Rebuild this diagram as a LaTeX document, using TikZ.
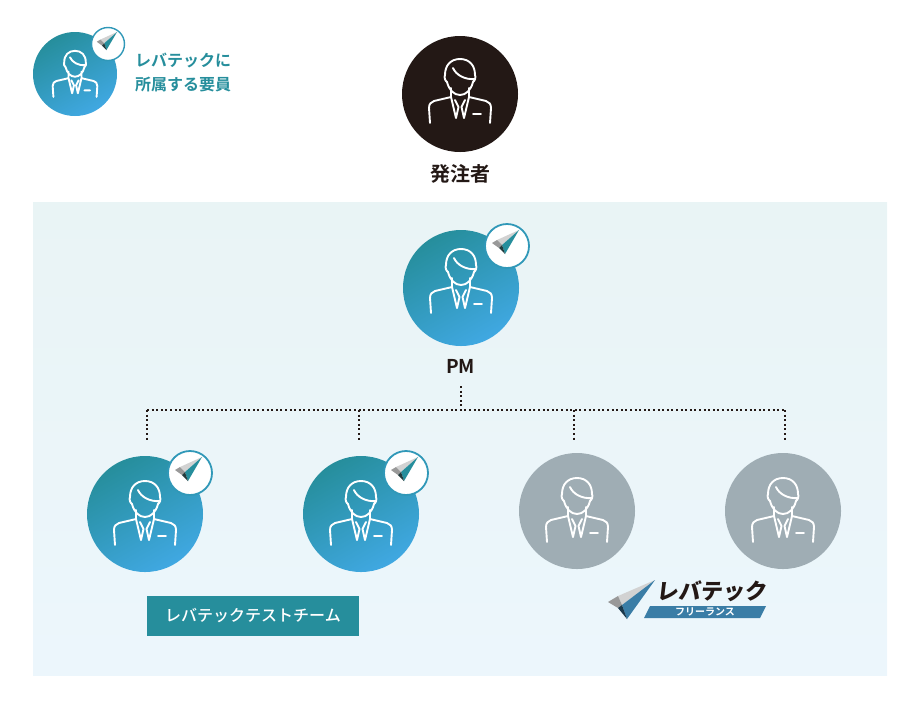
\documentclass[tikz,border=0pt]{standalone}
\usepackage{fontspec}
\setmainfont{Noto Sans CJK JP}[BoldFont={Noto Sans CJK JP Bold}]
\newfontfamily\medfont{Noto Sans CJK JP Medium}
\newfontfamily\logofont[FakeSlant=0.12]{Noto Sans CJK JP Black}
\usepackage{xcolor}
\usepackage{tikz}
\usetikzlibrary{positioning, calc, shadings}
\definecolor{colorTeal}{HTML}{268E9C}
\definecolor{colorBlue}{HTML}{40A8E2}
\definecolor{colorGrey}{HTML}{9FADB4}
\definecolor{colorInk}{HTML}{231815}
\definecolor{colorBand}{HTML}{3A7DA6}

\begin{document}
\begin{tikzpicture}[
  x=1pt, y=-1pt,
  every node/.style={font=\bfseries, inner sep=0pt},
  member/.style={circle, minimum size=116pt, top color=colorTeal, bottom color=colorBlue,
                 middle color=colorTeal!50!colorBlue, shading angle=30},
  smallmember/.style={member, minimum size=84pt},
  client/.style={circle, minimum size=116pt, fill=colorInk},
  outside/.style={circle, minimum size=116pt, fill=colorGrey},
  badge/.style={circle, fill=white, draw=colorTeal!60!colorBlue, line width=1.8pt, minimum size=44pt},
  smallbadge/.style={badge, minimum size=33pt, line width=1.4pt},
  bus/.style={line width=2pt, dash pattern=on 2pt off 2.6pt, color=colorInk},
  person/.pic={
    \draw[white, line width=1.9pt, line cap=round, line join=round]
      (-15,-19) .. controls (-15,-29) and (-9,-35) .. (0,-35)
                .. controls (9,-35) and (15,-29) .. (15,-19)
                .. controls (16,-17) and (15,-13) .. (13,-12)
                .. controls (11,-4) and (6,1) .. (0,1)
                .. controls (-6,1) and (-11,-4) .. (-13,-12)
                .. controls (-15,-13) and (-16,-17) .. (-15,-19) -- cycle
      (-7,-26) .. controls (-4,-19) and (5,-14) .. (15,-15)
      (-9,-6) -- (-9,3) (9,-6) -- (9,3)
      (-30,29) -- (-31,14) .. controls (-31,10) and (-29,8) .. (-26,7) -- (-9,3)
      (30,29) -- (31,14) .. controls (31,10) and (29,8) .. (26,7) -- (9,3)
      (-9,3) -- (-4,24) -- (-1.5,13) -- (-5,6)
      (9,3) -- (4,24) -- (1.5,13) -- (5,6)
      (13,20) -- (21,20);
  },
  wing/.pic={
    \fill[gray!35]  (12,-16) -- (-10,-6) -- (-5,-1) -- cycle;
    \fill[gray!80]  (-15,-3) -- (-10,-6) -- (-5,-1) -- (-8,2) -- cycle;
    \fill[colorTeal] (12,-16) -- (-5,-1) -- (-2,8) -- cycle;
    \fill[colorInk!70!colorTeal] (-8,2) -- (-5,-1) -- (-2,8) -- cycle;
  }
]
\useasboundingbox (0,0) rectangle (920,705);

\shade[top color=white!90!colorTeal, bottom color=colorBlue!10] (33,202) rectangle (887,675);

% legend
\node[smallmember] (leg) at (75,74) {};
\pic[scale=0.72] at ($(leg)+(0,2)$) {person};
\node[smallbadge] (legb) at (108,44) {};
\pic[scale=0.75] at (legb) {wing};
\node[font=\bfseries\fontsize{16}{24}\selectfont, color=colorTeal, align=center] (legt) at (183,73)
  {レバテックに\\所属する要員};

% client
\node[client] (cli) at (460,94) {};
\pic at (cli) {person};
\node[font=\bfseries\fontsize{20}{24}\selectfont, color=colorInk] (clit) at (460,174) {発注者};

% pm
\node[member] (pm) at (461,288) {};
\pic at ($(pm)+(0,-4)$) {person};
\node[badge] (pmb) at (507,246) {};
\pic at (pmb) {wing};
\node[font=\bfseries\fontsize{19}{24}\selectfont, color=colorInk] (pmt) at (460.5,366) {PM};

% members
\node[member] (ta) at (145,514) {};
\pic at ($(ta)+(0,2)$) {person};
\node[badge] (tab) at (190,473) {};
\pic at (tab) {wing};
\node[member] (tb) at (361,514) {};
\pic at ($(tb)+(0,2)$) {person};
\node[badge] (tbb) at (406,473) {};
\pic at (tbb) {wing};
\node[outside] (fa) at (577,511) {};
\pic at ($(fa)+(0,2)$) {person};
\node[outside] (fb) at (783,511) {};
\pic at ($(fb)+(0,2)$) {person};

% team label
\node[fill=colorTeal, minimum width=212pt, minimum height=40pt, text=white,
      font=\medfont\fontsize{16}{18}\selectfont] (team) at (253,616) {\raisebox{-1pt}{レバテックテストチーム}};

% freelance logo
\fill[gray!35] (655,580) -- (618,596) -- (622,605) -- cycle;
\fill[gray!80] (608,602) -- (618,596) -- (622,605) -- (618,608) -- cycle;
\fill[colorBand] (655,580) -- (622,605) -- (627,619) -- cycle;
\fill[colorBand!45!black] (618,608) -- (622,605) -- (627,619) -- cycle;
\node[font=\logofont\fontsize{22}{24}\selectfont, color=colorInk] (lev) at (711,591) {レバテック};
\fill[colorBand] (650,606) -- (766,606) -- (760,618) -- (644,618) -- cycle;
\node[font=\bfseries\fontsize{10}{12}\selectfont, text=white] (lan) at (705,612) {フリーランス};

% connectors
\coordinate (top) at (461,386);
\coordinate (mid) at (461,410);
\coordinate (busa) at (147,410);
\coordinate (busb) at (359,410);
\coordinate (busc) at (574,410);
\coordinate (busd) at (785,410);
\coordinate (enda) at (147,440);
\coordinate (endb) at (359,440);
\coordinate (endc) at (574,440);
\coordinate (endd) at (785,440);
\draw[bus] (top) -- (mid);
\draw[bus] (busa) -- (busd);
\draw[bus] (busa) -- (enda);
\draw[bus] (busb) -- (endb);
\draw[bus] (busc) -- (endc);
\draw[bus] (busd) -- (endd);

\end{tikzpicture}
\end{document}
